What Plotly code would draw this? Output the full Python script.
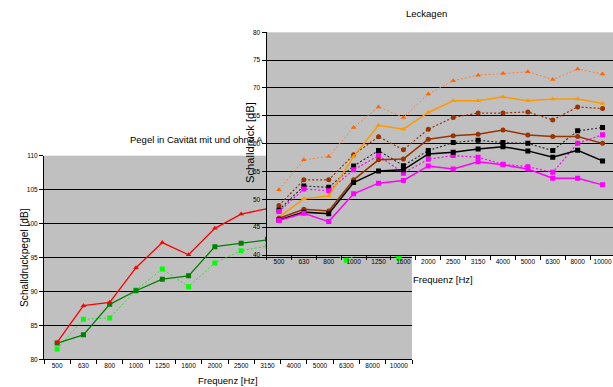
import plotly.graph_objects as go

freqs = ["500", "630", "800", "1000", "1250", "1600", "2000", "2500",
         "3150", "4000", "5000", "6300", "8000", "10000"]

# Chart 1: Pegel in Cavität
cav_red = [82.5, 87.9, 88.4, 93.5, 97.2, 95.4, 99.3, 101.4, 102.2, 103.0, 103.5, 103.0, 104.0, 103.5]
cav_dkgreen = [82.4, 83.6, 88.1, 90.1, 91.8, 92.3, 96.6, 97.1, 97.7, 98.2, 98.6, 98.0, 98.8, 98.4]
cav_ltgreen = [81.5, 85.9, 86.1, 90.2, 93.3, 90.7, 94.2, 96.0, 96.7, 97.0, 96.5, 94.6, 96.5, 94.9]

# Chart 2: Leckagen
lk_orange_dot = [51.7, 57.1, 57.7, 62.9, 66.6, 64.7, 68.9, 71.3, 72.3, 72.6, 72.9, 71.5, 73.4, 72.5]
lk_orange = [46.8, 50.1, 50.6, 57.7, 63.3, 62.6, 65.6, 67.7, 67.7, 68.4, 67.7, 68.0, 68.0, 67.2]
lk_brown_dot = [48.9, 53.5, 53.5, 58.0, 61.25, 58.9, 62.6, 64.7, 65.5, 65.5, 65.7, 64.25, 66.6, 66.3]
lk_brown = [46.6, 48.2, 47.9, 53.5, 57.1, 57.25, 60.8, 61.4, 61.7, 62.45, 61.55, 61.3, 61.3, 60.05]
lk_black_dot = [48.1, 52.4, 52.15, 56.0, 58.75, 56.05, 58.75, 60.2, 60.6, 60.2, 60.05, 58.75, 62.3, 62.9]
lk_black = [46.3, 47.7, 47.4, 53.0, 55.1, 55.3, 58.15, 58.45, 59.05, 59.45, 58.7, 57.55, 58.8, 56.9]
lk_magenta_dot = [47.8, 51.85, 51.55, 55.3, 57.85, 54.7, 57.2, 57.85, 57.55, 56.3, 55.85, 54.85, 60.05, 61.6]
lk_magenta = [46.2, 47.5, 46.0, 51.0, 52.9, 53.4, 56.0, 55.45, 56.75, 56.2, 55.45, 53.8, 53.8, 52.6]

FONT = "Arial, Liberation Sans, sans-serif"
W, H = 613, 387
DOT = "2px,2px"

fig = go.Figure()

def add(y, color, symbol, dash, xa, ya, lcolor=None, width=1.3, msize=5):
    fig.add_trace(go.Scatter(
        x=freqs, y=y, mode="lines+markers",
        line=dict(color=lcolor or color, width=width, dash=dash),
        marker=dict(color=color, symbol=symbol, size=msize, line=dict(width=0)),
        xaxis=xa, yaxis=ya, showlegend=False, hoverinfo="skip"))

# chart 1
add(cav_ltgreen, "#00FF00", "square", DOT, "x", "y", lcolor="#33DD33", width=1)
add(cav_dkgreen, "#008000", "square", "solid", "x", "y")
add(cav_red, "#FF0000", "triangle-up", "solid", "x", "y")

# chart 2
add(lk_orange_dot, "#FF6600", "triangle-up", DOT, "x2", "y2", lcolor="#FF8040", width=1, msize=5)
add(lk_brown_dot, "#993300", "circle", DOT, "x2", "y2", width=1.2, msize=5)
add(lk_black_dot, "#000000", "square", DOT, "x2", "y2", lcolor="#303030", width=1.2, msize=5)
add(lk_magenta_dot, "#FF00FF", "square", DOT, "x2", "y2", width=1.2, msize=5)
add(lk_orange, "#FF9900", "triangle-up", "solid", "x2", "y2", width=1.5, msize=5)
add(lk_brown, "#993300", "circle", "solid", "x2", "y2", width=1.5, msize=5)
add(lk_black, "#000000", "square", "solid", "x2", "y2", width=1.5, msize=5)
add(lk_magenta, "#FF00FF", "square", "solid", "x2", "y2", width=1.5, msize=5)

tickfont = dict(family=FONT, size=6.5, color="#000000")
common_x = dict(type="category", tickson="boundaries", ticks="outside", ticklen=4,
                tickcolor="#000000", showline=True, linecolor="#000000", linewidth=1,
                showgrid=False, zeroline=False, tickfont=tickfont, tickangle=0,
                automargin=False, fixedrange=True)
common_y = dict(ticks="outside", ticklen=4, tickcolor="#000000", showline=True,
                linecolor="#000000", linewidth=1, showgrid=True, gridcolor="#000000",
                gridwidth=1, zeroline=False, tickfont=tickfont, automargin=False,
                fixedrange=True)

fig.update_layout(
    width=W, height=H, margin=dict(l=0, r=0, t=0, b=0, pad=0),
    paper_bgcolor="#FFFFFF", plot_bgcolor="#C0C0C0",
    xaxis=dict(domain=[44 / W, 412 / W], anchor="y", range=[-0.5, 13.5], **common_x),
    yaxis=dict(domain=[(H - 359.3) / H, (H - 155.7) / H], anchor="x",
               range=[80, 110], tickvals=[80, 85, 90, 95, 100, 105, 110], **common_y),
    xaxis2=dict(domain=[266.5 / W, 1.0], anchor="y2", range=[-0.5, 13.42], **common_x),
    yaxis2=dict(domain=[(H - 255) / H, (H - 32.3) / H], anchor="x2",
                range=[40, 80], tickvals=[40, 45, 50, 55, 60, 65, 70, 75, 80], **common_y),
)

def ann(text, x, y, size, angle=0, xanchor="center"):
    fig.add_annotation(text=text, x=x / W, y=1 - y / H, xref="paper", yref="paper",
                       showarrow=False, textangle=angle, xanchor=xanchor, yanchor="middle",
                       font=dict(family=FONT, size=size, color="#000000"))

ann("Pegel in Cavität mit und ohne A", 128, 139, 9.5, xanchor="left")
ann("Schalldruckpegel [dB]", 24, 257, 10.2, angle=-90)
ann("Frequenz [Hz]", 228, 380, 9.5)
ann("Leckagen", 426, 13, 9.5)
ann("Schalldruck [dB]", 250, 143, 11.2, angle=-90)
ann("Frequenz [Hz]", 443, 279, 9.5)

fig.write_html("out.html", config={"displayModeBar": False, "staticPlot": True},
               post_script="document.body.style.margin='0';document.body.style.overflow='hidden';")
